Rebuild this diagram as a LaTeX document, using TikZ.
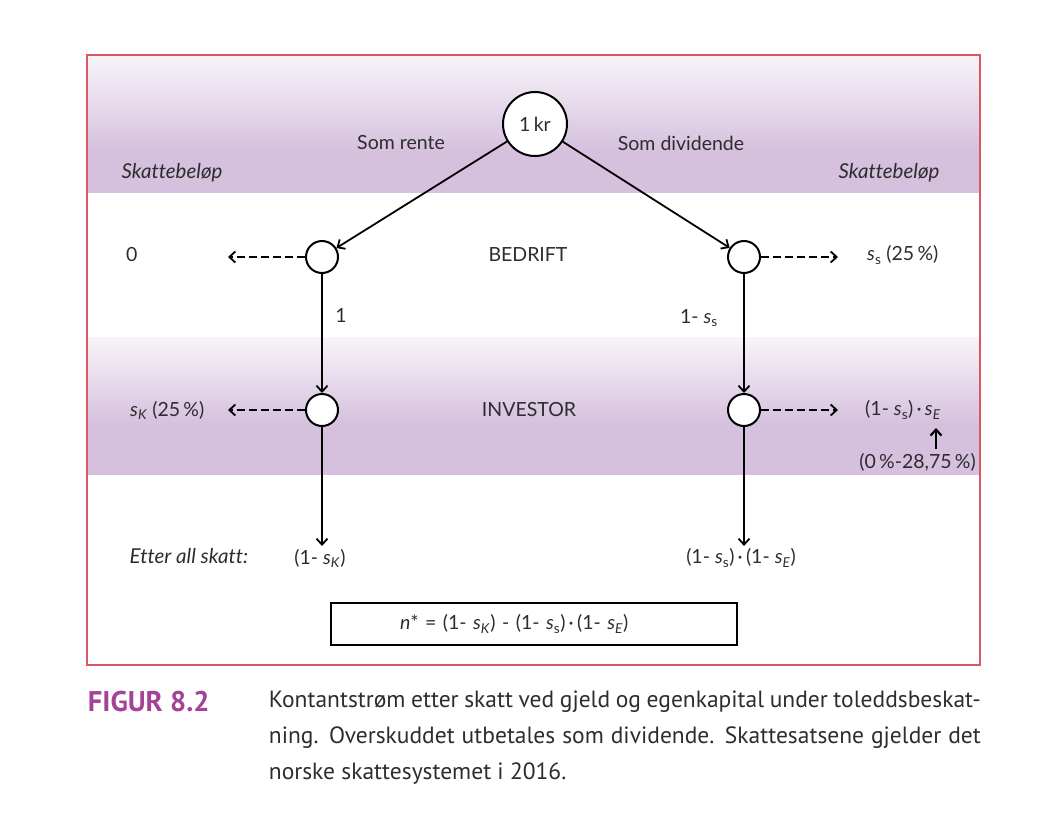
\documentclass[tikz,border=0pt]{standalone}
\usepackage{fontspec}
\setmainfont{Lato}[Ligatures=NoCommon]
\newfontfamily\capfont{PT Sans}
\usetikzlibrary{arrows.meta, positioning}
\definecolor{colorBand}{RGB}{213,192,222}
\definecolor{colorBandTop}{RGB}{248,244,249}
\definecolor{colorFrame}{RGB}{222,86,96}
\definecolor{colorFigur}{RGB}{164,66,152}
\definecolor{colorInk}{RGB}{45,45,45}
\newcommand{\sats}[1]{\textit{s}\textsubscript{#1}}
\tikzset{every node/.style={text=colorInk}}

\begin{document}
\begin{tikzpicture}[x=1pt, y=-1pt, >={Straight Barb[length=6pt,width=11pt]}, line width=1.8pt, font=\fontsize{19.5}{22}\selectfont, knot/.style={circle, draw, line width=2pt, fill=white, minimum size=32pt, inner sep=0pt}, tax/.style={->, dash pattern=on 8pt off 4pt}, kursiv/.style={font=\fontsize{20.5}{23}\selectfont\itshape}]
\useasboundingbox (0,0) rectangle (1037,822);
% bands
\shade[top color=colorBandTop, bottom color=colorBand, draw=none] (88,56) rectangle (979,152);
\fill[colorBand] (88,151) rectangle (979,193);
\shade[top color=colorBandTop, bottom color=colorBand, draw=none] (88,337) rectangle (979,425);
\fill[colorBand] (88,424) rectangle (979,475);
\draw[colorFrame, line width=1.6pt] (87,55) rectangle (980,665);
% nodes
\node[knot, minimum size=64pt] (kr) at (535,124) {1\,kr};
\node[knot] (bedL) at (322,257) {};
\node[knot] (bedR) at (744,257) {};
\node[knot] (invL) at (322,410) {};
\node[knot] (invR) at (744,410) {};
\node (rente) at (401,143) {Som rente};
\node (dividende) at (681,143) {Som dividende};
\node[kursiv] (skattL) at (172,173) {Skattebeløp};
\node[kursiv] (skattR) at (889,173) {Skattebeløp};
\node (bedrift) at (528,255) {BEDRIFT};
\node (investor) at (529,410) {INVESTOR};
\node[anchor=west] (nullskatt) at (122,255) {0};
\node[anchor=west] (selskap) at (863,255) {\sats{s} (25\,\%)};
\node[anchor=west] (kapital) at (126,410) {\sats{\textit{K}} (25\,\%)};
\node[anchor=west] (utbytte) at (861,410) {(1- \sats{s})\,·\,\sats{\textit{E}}};
\node[anchor=east] (sats) at (980,462) {(0\,\%-28,75\,\%)};
\node (en) at (341,315) {1};
\node (ens) at (699,318) {1- \sats{s}};
\node[kursiv] (etter) at (189,556) {Etter all skatt:};
\node[inner sep=2pt] (nettoL) at (320,558) {(1- \sats{\textit{K}})};
\node[inner sep=2pt] (nettoR) at (741,558) {(1- \sats{s})\,·\,(1- \sats{\textit{E}})};
\node[draw, line width=1.8pt, inner xsep=69pt, text width=268pt, align=left, minimum height=42pt] (nstar) at (534,624) {\textit{n}* = (1- \sats{\textit{K}}) - (1- \sats{s})\,·\,(1- \sats{\textit{E}})};
\coordinate (tipL1) at (228,257);
\coordinate (tipR1) at (838,257);
\coordinate (tipL2) at (228,410);
\coordinate (tipR2) at (838,410);
\coordinate (tipUp) at (936,428);
% connectors
\draw[->] (kr) -- (bedL);
\draw[->] (kr) -- (bedR);
\draw[->] (bedL) -- (invL);
\draw[->] (bedR) -- (invR);
\draw[->] (invL) -- (invL |- nettoL.north);
\draw[->] (invR) -- (invR |- nettoR.north);
\draw[tax] (bedL) -- (tipL1);
\draw[tax] (bedR) -- (tipR1);
\draw[tax] (invL) -- (tipL2);
\draw[tax] (invR) -- (tipR2);
\draw[->, line width=2.2pt] (sats.north -| tipUp) -- (tipUp);
% caption
\node[anchor=west, font=\capfont\bfseries\fontsize{28.5}{30}\selectfont, text=colorFigur, inner sep=0pt] (figur) at (87,702) {FIGUR 8.2};
\node[anchor=north west, font=\capfont\fontsize{23.5}{36}\selectfont, align=left, inner sep=0pt] (tekst) at (268,690) {\makebox[712pt][s]{Kontantstrøm etter skatt ved gjeld og egenkapital under toleddsbeskat-}\\\makebox[712pt][s]{ning. Overskuddet utbetales som dividende. Skattesatsene gjelder det}\\norske skattesystemet i 2016.};
\end{tikzpicture}
\end{document}
